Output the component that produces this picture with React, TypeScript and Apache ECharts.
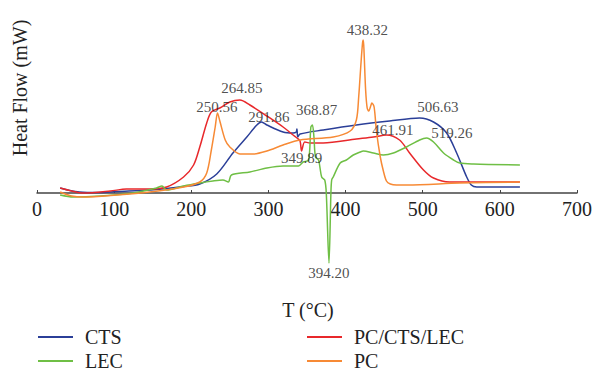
import React, { useEffect, useRef } from "react";
import * as echarts from "echarts";

const seriesNames = ["CTS", "PC/CTS/LEC", "LEC", "PC"];
const seriesColors = ["#2b3f98", "#e8282b", "#6fbf45", "#f78a35"];

const ctsData: [number, number][] = [
  [30, 5], [40, 3], [55, 1], [80, 0.5], [103, 1.5], [147, 3], [190, 6.5], [211, 9], [233, 19],
  [254, 40], [272, 56], [285, 68], [291, 71], [298, 68], [319, 61], [332, 60], [336, 61],
  [337, 64], [338, 56], [341, 59], [371, 63], [414, 68], [457, 72], [496, 75], [514, 71],
  [531, 60], [544, 40], [557, 16], [563, 8], [570, 6], [600, 6], [626, 6],
];

const pcCtsLecData: [number, number][] = [
  [30, 5], [45, 2], [60, 0], [95, 2], [116, 4], [146, 4], [168, 6], [190, 16], [203, 28],
  [211, 46], [220, 70], [226, 81], [237, 85], [250, 91], [263, 93], [276, 88], [298, 77],
  [319, 66], [332, 58], [337, 55], [341, 52], [343, 42], [347, 51], [354, 50], [371, 50],
  [414, 54], [436, 56], [453, 58], [470, 53], [483, 40], [501, 23], [514, 15], [535, 11],
  [580, 11], [626, 11],
];

const lecData: [number, number][] = [
  [30, -2], [47, -4], [82, -3], [125, 0], [155, 5], [162, 7], [168, 3], [190, 7], [211, 10],
  [228, 12], [241, 13], [248, 11], [252, 18], [276, 21], [298, 25], [319, 27], [339, 27],
  [345, 31], [352, 33], [355, 66], [357, 68], [359, 56], [361, 36], [365, 33], [369, 16],
  [373, 13], [375, 0], [378.5, -70], [381, 0], [382, 13], [384, 16], [393, 30], [401, 33],
  [410, 38], [419, 41], [423, 42], [436, 40], [449, 38], [462, 40], [479, 46], [496, 53],
  [505, 55], [514, 51], [527, 40], [540, 33], [548, 30], [566, 29], [626, 28],
];

const pcData: [number, number][] = [
  [30, 1], [45, -3], [60, -4], [103, -2], [146, 1], [190, 6], [211, 11], [220, 20], [226, 43],
  [231, 66], [234, 80], [237, 72], [244, 53], [250, 46], [263, 39], [280, 39], [298, 42],
  [319, 48], [341, 53], [384, 56], [406, 62], [414, 73], [417, 96], [420, 130], [422, 150],
  [423, 153], [424, 140], [426, 103], [428, 85], [430, 82], [433, 88], [434, 90], [437, 86],
  [440, 62], [445, 36], [449, 22], [453, 12], [458, 9], [466, 8], [480, 8], [548, 10], [626, 11],
];

const peakLabels: [number, number, string][] = [
  [265.7, 105, "264.85"],
  [233.3, 86, "250.56"],
  [300.7, 76, "291.86"],
  [362.5, 83, "368.87"],
  [428.4, 163, "438.32"],
  [519.8, 86, "506.63"],
  [461.4, 63, "461.91"],
  [537.9, 60, "519.26"],
  [343, 35, "349.89"],
  [378.5, -80, "394.20"],
];

const xTicks = { min: 0, max: 700, interval: 100 };
const FONT = '"Liberation Serif", "DejaVu Serif", serif';

const legendSlots = [
  { left: 38, top: 327 },
  { left: 307, top: 327 },
  { left: 38, top: 351 },
  { left: 307, top: 351 },
];

export default function App() {
  const ref = useRef<HTMLDivElement>(null);
  useEffect(() => {
    document.body.style.margin = "0";
    if (!ref.current) return;
    const chart = echarts.init(ref.current, null, { renderer: "svg" });
    const datasets = [ctsData, pcCtsLecData, lecData, pcData];
    const lineSeries = seriesNames.map((name, i) => ({
      name,
      type: "line",
      data: datasets[i],
      symbol: "none",
      smooth: 0.3,
      clip: false,
      lineStyle: { width: 1.5, color: seriesColors[i] },
      itemStyle: { color: seriesColors[i] },
      z: 2,
    }));
    chart.setOption({
      animation: false,
      textStyle: { fontFamily: FONT },
      grid: { left: 37, right: 16, top: 23, bottom: 180, outerBoundsMode: "none", containLabel: false },
      xAxis: {
        type: "value",
        min: xTicks.min,
        max: xTicks.max,
        interval: xTicks.interval,
        axisLine: { onZero: false, lineStyle: { color: "#444", width: 1.5 } },
        axisTick: { show: true, inside: true, length: 3, lineStyle: { color: "#444" } },
        axisLabel: { fontSize: 20, color: "#222", margin: 6, fontFamily: FONT },
        splitLine: { show: false },
      },
      yAxis: {
        type: "value",
        min: 0,
        max: 170,
        axisLine: { show: false },
        axisTick: { show: false },
        axisLabel: { show: false },
        splitLine: { show: false },
      },
      legend: seriesNames.map((name, i) => ({
        data: [name],
        left: legendSlots[i].left,
        top: legendSlots[i].top,
        icon: "rect",
        itemWidth: 35,
        itemHeight: 2,
        padding: 0,
        textStyle: { fontSize: 20, color: "#222", fontFamily: FONT, padding: [0, 0, 0, 7] },
      })),
      graphic: [
        {
          type: "text",
          x: 20,
          y: 88,
          rotation: Math.PI / 2,
          style: {
            text: "Heat Flow (mW)",
            fontSize: 20,
            fontFamily: FONT,
            fill: "#222",
            align: "center",
            verticalAlign: "middle",
          },
        },
        {
          type: "text",
          x: 308,
          y: 310,
          style: {
            text: "T (°C)",
            fontSize: 20,
            fontFamily: FONT,
            fill: "#222",
            align: "center",
            verticalAlign: "middle",
          },
        },
      ],
      series: [
        ...lineSeries,
        {
          name: "peaks",
          type: "scatter",
          data: peakLabels,
          symbolSize: 0,
          silent: true,
          clip: false,
          z: 5,
          label: {
            show: true,
            position: "inside",
            formatter: (p: any) => p.data[2],
            fontSize: 15,
            color: "#222",
            fontFamily: FONT,
          },
        },
      ],
    });
    return () => chart.dispose();
  }, []);
  return <div ref={ref} style={{ width: 593, height: 373 }} />;
}
